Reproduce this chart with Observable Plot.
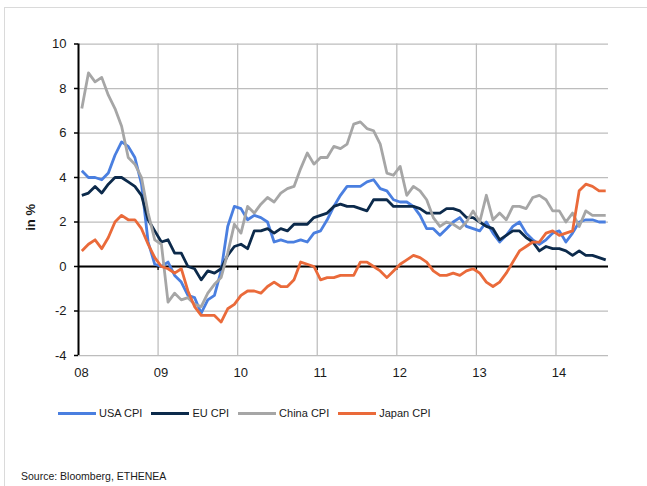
<!DOCTYPE html>
<html><head><meta charset="utf-8">
<script src="https://cdn.jsdelivr.net/npm/d3@7"></script>
<script src="https://cdn.jsdelivr.net/npm/@observablehq/plot@0.6"></script>
<style>
body{margin:0;background:#fff;font-family:"Liberation Sans",Arial,sans-serif;}
#wrap{position:relative;width:647px;height:486px;overflow:hidden;background:#fff;}
#frame{position:absolute;left:4px;top:7px;width:720px;height:540px;border:1px solid #dadada;}
#chart{position:absolute;left:0;top:0;}
#legend{position:absolute;left:58px;top:405px;height:16px;display:flex;align-items:center;font-size:11px;color:#1a1a1a;}
.item{display:flex;align-items:center;margin-right:9px;}
.sw{width:38px;height:3px;margin-right:3px;}
#source{position:absolute;left:21px;top:470px;line-height:12px;font-size:10.5px;color:#1a1a1a;}
</style>
</head>
<body>
<div id="wrap">
  <div id="frame"></div>
  <div id="chart"></div>
  <div id="legend"></div>
  <div id="source"></div>
</div>
<script>
// Monthly values, Jan 2008 – Aug 2014 (year-on-year, in %)
const usa = [
  4.3,4.0,4.0,3.9,4.2,5.0,5.6,5.4,4.9,3.7,1.1,0.1,
  0.0,0.2,-0.4,-0.7,-1.3,-1.4,-2.1,-1.5,-1.3,-0.2,1.8,2.7,
  2.6,2.1,2.3,2.2,2.0,1.1,1.2,1.1,1.1,1.2,1.1,1.5,
  1.6,2.1,2.7,3.2,3.6,3.6,3.6,3.8,3.9,3.5,3.4,3.0,
  2.9,2.9,2.7,2.3,1.7,1.7,1.4,1.7,2.0,2.2,1.8,1.7,
  1.6,2.0,1.5,1.1,1.4,1.8,2.0,1.5,1.2,1.0,1.2,1.5,
  1.6,1.1,1.5,2.0,2.1,2.1,2.0,2.0
];
const eu = [
  3.2,3.3,3.6,3.3,3.7,4.0,4.0,3.8,3.6,3.2,2.1,1.6,
  1.1,1.2,0.6,0.6,0.0,-0.1,-0.6,-0.2,-0.3,-0.1,0.5,0.9,
  1.0,0.8,1.6,1.6,1.7,1.5,1.7,1.6,1.9,1.9,1.9,2.2,
  2.3,2.4,2.7,2.8,2.7,2.7,2.6,2.5,3.0,3.0,3.0,2.7,
  2.7,2.7,2.7,2.6,2.4,2.4,2.4,2.6,2.6,2.5,2.2,2.2,
  2.0,1.8,1.7,1.2,1.4,1.6,1.6,1.3,1.1,0.7,0.9,0.8,
  0.8,0.7,0.5,0.7,0.5,0.5,0.4,0.3
];
const china = [
  7.1,8.7,8.3,8.5,7.7,7.1,6.3,4.9,4.6,4.0,2.4,1.2,
  1.0,-1.6,-1.2,-1.5,-1.4,-1.7,-1.8,-1.2,-0.8,-0.5,0.6,1.9,
  1.5,2.7,2.4,2.8,3.1,2.9,3.3,3.5,3.6,4.4,5.1,4.6,
  4.9,4.9,5.4,5.3,5.5,6.4,6.5,6.2,6.1,5.5,4.2,4.1,
  4.5,3.2,3.6,3.4,3.0,2.2,1.8,2.0,1.9,1.7,2.0,2.5,
  2.0,3.2,2.1,2.4,2.1,2.7,2.7,2.6,3.1,3.2,3.0,2.5,
  2.5,2.0,2.4,1.8,2.5,2.3,2.3,2.3
];
const japan = [
  0.7,1.0,1.2,0.8,1.3,2.0,2.3,2.1,2.1,1.7,1.0,0.4,
  0.0,-0.1,-0.3,-0.1,-1.1,-1.8,-2.2,-2.2,-2.2,-2.5,-1.9,-1.7,
  -1.3,-1.1,-1.1,-1.2,-0.9,-0.7,-0.9,-0.9,-0.6,0.2,0.1,0.0,
  -0.6,-0.5,-0.5,-0.4,-0.4,-0.4,0.2,0.2,0.0,-0.2,-0.5,-0.2,
  0.1,0.3,0.5,0.4,0.2,-0.2,-0.4,-0.4,-0.3,-0.4,-0.2,-0.1,
  -0.3,-0.7,-0.9,-0.7,-0.3,0.2,0.7,0.9,1.1,1.1,1.5,1.6,
  1.4,1.5,1.6,3.4,3.7,3.6,3.4,3.4
];
const seriesNames = ["USA CPI","EU CPI","China CPI","Japan CPI"];
const seriesColors = ["#4a7fe0","#0c2a4b","#a6a6a6","#ea6a3a"];
const yTicks = [-4,-2,0,2,4,6,8,10];
const yTickLabels = ["-4","-2","0","2","4","6","8","10"];
const yearTicks = [8,9,10,11,12,13,14];
const yearLabels = ["08","09","10","11","12","13","14"];
const yLabel = "in %";
const sourceText = "Source: Bloomberg, ETHENEA";

const seriesValues = [usa, eu, china, japan];
const rows = [];
seriesValues.forEach((vals, s) => {
  vals.forEach((v, i) => rows.push({series: seriesNames[s], t: 8 + (i + 0.5) / 12, v}));
});

const font = "'Liberation Sans', Arial, sans-serif";
const chart = Plot.plot({
  width: 647,
  height: 385,
  marginLeft: 78,
  marginRight: 39,
  marginTop: 43.5,
  marginBottom: 30,
  style: {fontFamily: font, color: "#1a1a1a", background: "transparent"},
  x: {domain: [8, 14.66], axis: null},
  y: {domain: [-4, 10], axis: null},
  color: {domain: seriesNames, range: seriesColors},
  marks: [
    Plot.gridY(yTicks, {stroke: "#bdbdbd", strokeOpacity: 1, strokeWidth: 1.25}),
    Plot.gridX(yearTicks.slice(1), {stroke: "#bdbdbd", strokeOpacity: 1, strokeWidth: 1.25}),
    Plot.ruleY([0], {stroke: "#000", strokeWidth: 1.8}),
    Plot.ruleX(yearTicks.slice(1), {y1: 0, y2: 0, insetBottom: -4, stroke: "#000", strokeWidth: 1.3}),
    Plot.ruleX([8], {stroke: "#000", strokeWidth: 2}),
    Plot.axisY(yTicks, {tickSize: 4, tickPadding: 8, fontSize: 13, strokeWidth: 1.5, stroke: "#000",
      label: null, tickFormat: (d) => yTickLabels[yTicks.indexOf(d)]}),
    Plot.axisX(yearTicks, {tickSize: 0, tickPadding: 12, fontSize: 13, dx: 3, label: null,
      tickFormat: (d) => yearLabels[yearTicks.indexOf(d)]}),
    Plot.text([yLabel], {frameAnchor: "left", dx: -48, dy: 31, rotate: -90,
      fontWeight: "bold", fontSize: 13, fill: "#1a1a1a"}),
    Plot.line(rows, {x: "t", y: "v", z: "series", stroke: "series", strokeWidth: 2.8,
      strokeLinejoin: "round", strokeLinecap: "butt"})
  ]
});
document.getElementById("chart").appendChild(chart);

const legend = document.getElementById("legend");
seriesNames.forEach((name, i) => {
  const item = document.createElement("div");
  item.className = "item";
  const sw = document.createElement("div");
  sw.className = "sw";
  sw.style.background = seriesColors[i];
  const label = document.createElement("span");
  label.textContent = name;
  item.appendChild(sw);
  item.appendChild(label);
  legend.appendChild(item);
});
document.getElementById("source").textContent = sourceText;
</script>
</body></html>
